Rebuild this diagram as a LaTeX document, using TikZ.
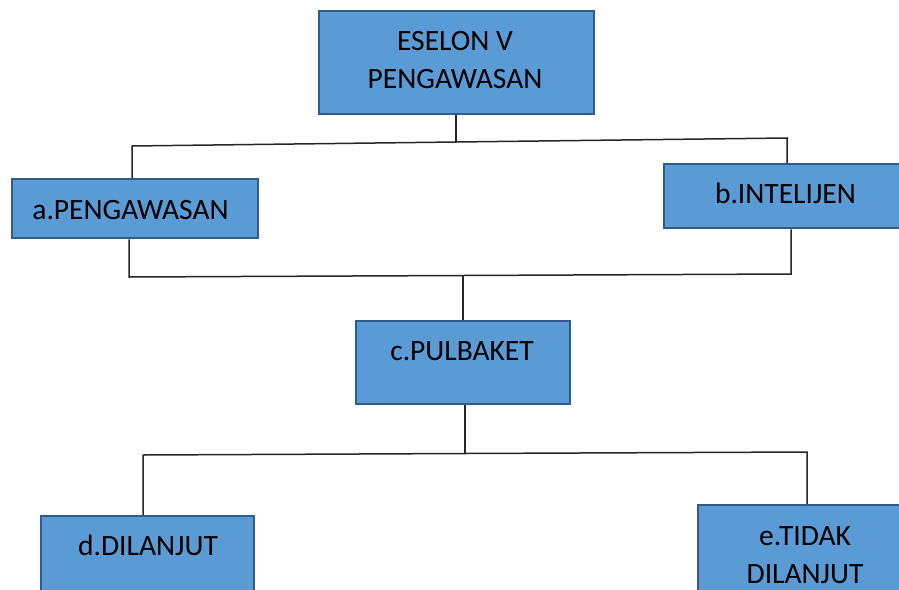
\documentclass[tikz,border=0pt]{standalone}
\usepackage{fontspec}
\setmainfont{Carlito}
\definecolor{boxfill}{HTML}{5B9BD5}
\definecolor{boxline}{HTML}{2F5C8C}
\definecolor{wire}{HTML}{262626}
\begin{document}
\begin{tikzpicture}[x=1pt,y=-1pt,
  unit/.style={draw=boxline,fill=boxfill,line width=2.4pt,rectangle,inner sep=0pt,anchor=north west},
  caption/.style={font=\fontsize{29.5}{38}\selectfont,inner sep=0pt,anchor=base,align=center},
  link/.style={draw=wire,line width=1.5pt}]
\useasboundingbox (0,0) rectangle (899,589);
\clip (0,0) rectangle (899,589);

% boxes
\node[unit,minimum width=275pt,minimum height=103pt] (top) at (318,10) {};
\node[unit,minimum width=246pt,minimum height=59pt] (a) at (11,178) {};
\node[unit,minimum width=260pt,minimum height=64pt] (b) at (663,163) {};
\node[unit,minimum width=214pt,minimum height=83pt] (c) at (355,320) {};
\node[unit,minimum width=213pt,minimum height=100pt] (d) at (40,515) {};
\node[unit,minimum width=230pt,minimum height=110pt] (e) at (697,504) {};

% labels (multi-line labels sit on the baseline of their last line)
\node[caption] (tTop) at (455,88) {ESELON V\\PENGAWASAN};
\node[caption] (tA) at (130.5,219) {a.PENGAWASAN};
\node[caption] (tB) at (785.5,203) {b.INTELIJEN};
\node[caption] (tC) at (462,360) {c.PULBAKET};
\node[caption] (tD) at (148,555) {d.DILANJUT};
\node[caption] (tE) at (805,583) {e.TIDAK\\DILANJUT};

% junction points
\coordinate (j1l) at (132,146);
\coordinate (j1m) at (456,142);
\coordinate (j1r) at (787,138);
\coordinate (j2l) at (129,277);
\coordinate (j2m) at (463,275.5);
\coordinate (j2r) at (791,274);
\coordinate (j3l) at (143,455);
\coordinate (j3m) at (465,453.5);
\coordinate (j3r) at (807,452);

% top level split
\draw[link] (j1m |- top.south) -- (j1m);
\draw[link] (j1l |- a.north) -- (j1l) -- (j1m) -- (j1r) -- (j1r |- b.north);

% merge into c
\draw[link] (j2l |- a.south) -- (j2l) -- (j2m) -- (j2r) -- (j2r |- b.south);
\draw[link] (j2m) -- (j2m |- c.north);

% split from c
\draw[link] (j3m |- c.south) -- (j3m);
\draw[link] (j3l |- d.north) -- (j3l) -- (j3m) -- (j3r) -- (j3r |- e.north);
\end{tikzpicture}
\end{document}
